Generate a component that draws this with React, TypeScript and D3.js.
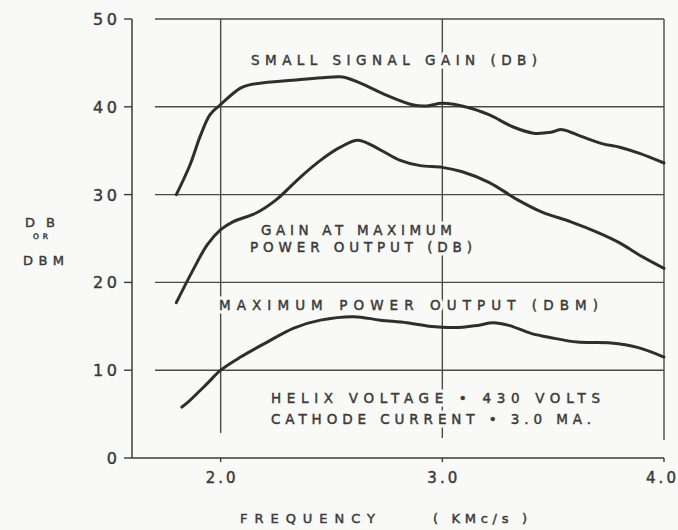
import React from "react";
import * as d3 from "d3";

const freqSmall = [1.80, 1.862, 1.907, 1.952, 1.997, 2.087, 2.13, 2.36, 2.46, 2.55, 2.63, 2.75, 2.87, 2.93, 3.0, 3.12, 3.21, 3.32, 3.41, 3.49, 3.54, 3.63, 3.72, 3.80, 3.89, 4.0];
const smallSignalGain = [30.0, 33.4, 36.6, 39.1, 40.2, 42.1, 42.5, 43.1, 43.3, 43.4, 42.7, 41.3, 40.2, 40.1, 40.4, 39.9, 39.1, 37.7, 37.0, 37.1, 37.4, 36.6, 35.8, 35.4, 34.7, 33.6];

const freqGainMax = [1.80, 1.875, 1.94, 2.0, 2.055, 2.16, 2.25, 2.36, 2.45, 2.54, 2.62, 2.72, 2.81, 2.90, 3.0, 3.09, 3.21, 3.34, 3.45, 3.58, 3.70, 3.80, 3.89, 4.0];
const gainAtMaxPower = [17.7, 21.4, 24.3, 26.0, 26.9, 27.9, 29.4, 32.0, 33.9, 35.4, 36.2, 35.1, 33.9, 33.3, 33.1, 32.6, 31.4, 29.4, 28.0, 26.9, 25.7, 24.5, 23.1, 21.6];

const freqPower = [1.825, 1.85, 1.94, 2.0, 2.09, 2.21, 2.33, 2.45, 2.60, 2.72, 2.84, 2.94, 3.0, 3.09, 3.16, 3.23, 3.30, 3.40, 3.49, 3.61, 3.76, 3.88, 4.0];
const maxPowerOutput = [5.8, 6.3, 8.5, 10.0, 11.5, 13.2, 14.8, 15.7, 16.1, 15.7, 15.4, 15.0, 14.9, 14.9, 15.1, 15.4, 15.1, 14.2, 13.7, 13.2, 13.1, 12.6, 11.5];

const yTicks = [0, 10, 20, 30, 40, 50];
const yTickLabels = ["0", "10", "20", "30", "40", "50"];
const xTicks = [2.0, 3.0, 4.0];
const xTickLabels = ["2.0", "3.0", "4.0"];
const gridY = [10, 20, 30, 40, 50];
const gridX = [2.0, 3.0, 4.0];

const BG = "#f9f9f7";
const INK = "#3a3a3a";
const FONT = "'DejaVu Sans', 'Liberation Sans', sans-serif";

export default function App() {
  const x = d3.scaleLinear().domain([1.6, 4.0]).range([132, 664]);
  const y = d3.scaleLinear().domain([0, 50]).range([458, 19]);

  const line = d3
    .line<[number, number]>()
    .x((d) => x(d[0]))
    .y((d) => y(d[1]))
    .curve(d3.curveCatmullRom.alpha(0.5));

  const series = [
    freqSmall.map((f, i) => [f, smallSignalGain[i]] as [number, number]),
    freqGainMax.map((f, i) => [f, gainAtMaxPower[i]] as [number, number]),
    freqPower.map((f, i) => [f, maxPowerOutput[i]] as [number, number]),
  ];

  const vEnd: Record<string, number> = { "2": 433, "3": 438, "4": 440 };

  const T = (
    t: string,
    x0: number,
    yb: number,
    w: number | undefined,
    fs: number,
    withHalo = false,
    anchor: "start" | "middle" | "end" = "start"
  ) => (
    <g>
      {withHalo && (
        <text
          x={x0}
          y={yb}
          textLength={w}
          lengthAdjust={w ? "spacing" : undefined}
          fontSize={fs}
          fill={BG}
          stroke={BG}
          strokeWidth={7}
          strokeLinejoin="round"
          fontFamily={FONT}
          textAnchor={anchor}
        >
          {t}
        </text>
      )}
      <text
        x={x0}
        y={yb}
        textLength={w}
        lengthAdjust={w ? "spacing" : undefined}
        fontSize={fs}
        fill={INK}
        stroke={INK}
        strokeWidth={0.45}
        fontFamily={FONT}
        textAnchor={anchor}
      >
        {t}
      </text>
    </g>
  );

  return (
    <svg
      width={678}
      height={530}
      style={{ position: "absolute", left: 0, top: 0, background: BG }}
    >
      <rect x={0} y={0} width={678} height={530} fill={BG} />
      {gridY.map((v) => (
        <line key={"gy" + v} x1={155} x2={664} y1={y(v)} y2={y(v)} stroke="#4a4a4a" strokeWidth={1.4} />
      ))}
      {gridX.map((v) => (
        <line
          key={"gx" + v}
          x1={x(v)}
          x2={x(v)}
          y1={y(50)}
          y2={vEnd[String(Math.round(v))]}
          stroke="#4a4a4a"
          strokeWidth={1.4}
        />
      ))}
      <line x1={x(1.6)} x2={x(1.6)} y1={y(50)} y2={y(0)} stroke="#3a3a3a" strokeWidth={1.5} />
      <line x1={x(1.6)} x2={x(4.0)} y1={y(0)} y2={y(0)} stroke="#3a3a3a" strokeWidth={1.5} />
      {yTicks.map((v) => (
        <line key={"yt" + v} x1={124} x2={x(1.6)} y1={y(v)} y2={y(v)} stroke="#3a3a3a" strokeWidth={1.4} />
      ))}
      {xTicks.map((v) => (
        <line key={"xt" + v} x1={x(v)} x2={x(v)} y1={y(0)} y2={y(0) + 4} stroke="#3a3a3a" strokeWidth={1.4} />
      ))}
      {yTicks.map((v, i) => (
        <g key={"yl" + v}>{T(yTickLabels[i], 117, y(v) + 6, yTickLabels[i].length > 1 ? 24 : undefined, 16, false, "end")}</g>
      ))}
      {xTicks.map((v, i) => (
        <g key={"xl" + v}>
          {T(xTickLabels[i], i === 2 ? 646 : x(v) - 15, 483, 30, 15)}
        </g>
      ))}

      {T("SMALL SIGNAL GAIN (DB)", 251, 65, 286, 13.5, true)}
      {T("GAIN AT MAXIMUM", 261, 235, 191, 13.5, true)}
      {T("POWER OUTPUT (DB)", 250, 252, 222, 13.5, true)}
      {T("MAXIMUM POWER OUTPUT (DBM)", 219, 310, 379, 13.5, true)}
      {T("HELIX VOLTAGE • 430 VOLTS", 271, 403, 329, 13.5, true)}
      {T("CATHODE CURRENT • 3.0 MA.", 271, 424, 320, 13.5, true)}

      {series.map((s, i) => (
        <path key={"s" + i} d={line(s) || ""} fill="none" stroke="#2e2e2e" strokeWidth={3} strokeLinecap="round" strokeLinejoin="round" />
      ))}

      {T("D B", 25, 227, 30, 13)}
      {T("OR", 33, 239, 15, 7.5)}
      {T("D B M", 23, 265, 41, 13)}

      {T("FREQUENCY", 240, 523, 135, 13)}
      {T("( KMc/s )", 433, 523, 94, 13)}
    </svg>
  );
}
